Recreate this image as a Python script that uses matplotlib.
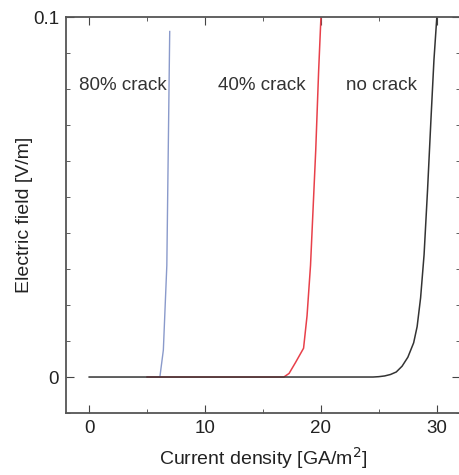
import matplotlib.pyplot as plt
from matplotlib.ticker import MultipleLocator

plt.rcParams['font.family'] = ['Liberation Sans', 'DejaVu Sans']

# curves: current density [GA/m^2] vs electric field [V/m]
no_crack_x = [0.0, 10.0, 20.0, 24.5, 25.0, 25.5, 26.0, 26.5, 27.0, 27.5, 28.0, 28.3, 28.6, 28.9, 29.2, 29.5, 29.75, 30.0]
no_crack_y = [0.0, 0.0, 0.0, 0.0, 0.0001, 0.0003, 0.0007, 0.0014, 0.003, 0.0055, 0.0095, 0.014, 0.022, 0.034, 0.052, 0.072, 0.088, 0.1]

crack40_x = [5.0, 10.0, 15.0, 16.8, 17.25, 17.8, 18.5, 18.8, 19.1, 19.55, 19.8, 20.0]
crack40_y = [0.0, 0.0, 0.0, 0.0, 0.001, 0.004, 0.008, 0.017, 0.031, 0.063, 0.085, 0.1]

crack80_x = [5.0, 6.1, 6.4, 6.7, 6.95]
crack80_y = [0.0, 0.0, 0.0075, 0.031, 0.096]

labels = ['80% crack', '40% crack', 'no crack']
label_x = [-0.9, 11.1, 22.2]
label_y = 0.081

fig = plt.figure(figsize=(4.6, 4.75), dpi=100)
ax = fig.add_axes([0.1435, 0.1305, 0.8565, 0.8335])

ax.plot(crack80_x, crack80_y, color='#8a9acb', lw=1.0)
ax.plot(crack40_x, crack40_y, color='#e8404a', lw=1.1)
ax.plot(no_crack_x, no_crack_y, color='#333333', lw=1.1)

for t, x in zip(labels, label_x):
    ax.text(x, label_y, t, fontsize=13.5, color='#333333', va='center', ha='left')

ax.set_xlim(-2, 32)
ax.set_ylim(-0.01, 0.1)
ax.set_xticks([0, 10, 20, 30])
ax.set_yticks([0, 0.1])
ax.set_yticklabels(['0', '0.1'])
ax.xaxis.set_minor_locator(MultipleLocator(5))
ax.yaxis.set_minor_locator(MultipleLocator(0.01))
ax.tick_params(which='both', direction='in', top=True, right=True, colors='#444444',
               labelcolor='#222222', labelsize=13.5)
ax.tick_params(which='major', length=6, pad=5)
ax.tick_params(which='minor', length=3)
for s in ax.spines.values():
    s.set_color('#555555')
    s.set_linewidth(1.3)

ax.set_xlabel('Current density [GA/m$^2$]', fontsize=14, color='#222222', labelpad=6)
ax.set_ylabel('Electric field [V/m]', fontsize=14, color='#222222', labelpad=0)

fig.savefig('out.png', dpi=100)
